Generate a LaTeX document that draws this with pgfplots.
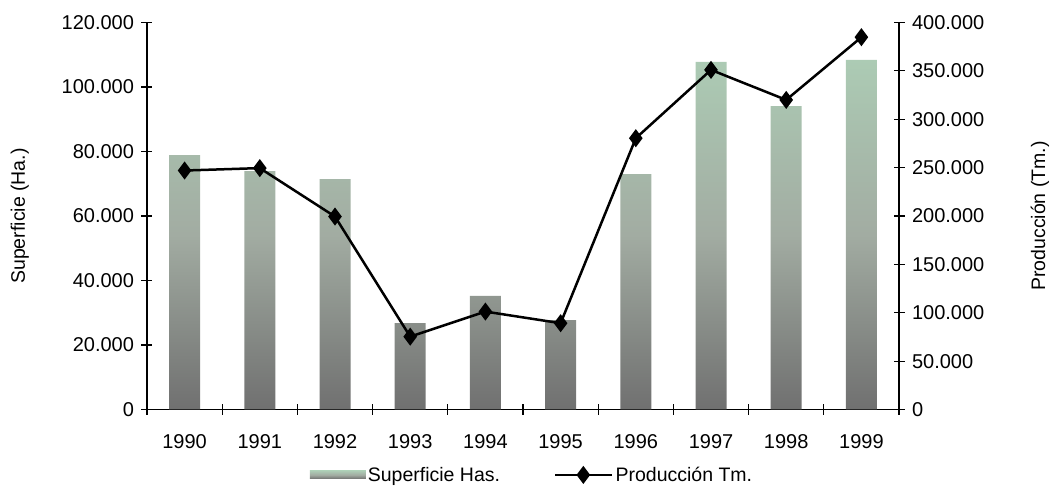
\documentclass[border=0pt]{standalone}
\usepackage{pgfplots}
\pgfplotsset{compat=1.18}
\usepackage{fontspec}
\setmainfont{Liberation Sans}
\definecolor{bartop}{RGB}{172,203,180}
\definecolor{barmid}{RGB}{162,172,162}
\definecolor{barbot}{RGB}{112,112,112}
\begin{document}
\begin{tikzpicture}
\pgfplotsset{
  common/.style={
    scale only axis, width=752pt, height=387pt,
    xmin=-0.5, xmax=9.5,
    axis line style={black, line width=1.3pt},
    tick style={black, line width=1.1pt},
    tick align=center,
    major tick length=11pt,
    scaled y ticks=false,
    tick label style={font=\fontsize{20}{24}\selectfont},
    label style={font=\fontsize{19.5}{23}\selectfont},
  }
}
\begin{axis}[common,
  axis x line*=bottom, axis y line*=left,
  ymin=0, ymax=120000,
  ytick={0,20000,40000,60000,80000,100000,120000},
  yticklabels={0,20.000,40.000,60.000,80.000,100.000,120.000},
  yticklabel style={xshift=-4pt},
  xtick={-0.5,0.5,1.5,2.5,3.5,4.5,5.5,6.5,7.5,8.5,9.5},
  xticklabels={1990,1991,1992,1993,1994,1995,1996,1997,1998,1999},
  xticklabel style={yshift=-16pt},
  x tick label as interval,
  ylabel={Superficie (Ha.)},
  ylabel style={at={(axis description cs:-0.169,0.5)}, anchor=center},
]
\addplot[ybar, bar width=31pt, draw=none, top color=bartop, bottom color=barbot, middle color=barmid] coordinates {
(0,78900) (1,73950) (2,71470) (3,26800) (4,35200) (5,27750) (6,73000) (7,107750) (8,94100) (9,108400)
};
\end{axis}
\begin{axis}[common,
  axis x line=none, axis y line*=right,
  ymin=0, ymax=400000,
  ytick={0,50000,100000,150000,200000,250000,300000,350000,400000},
  yticklabels={0,50.000,100.000,150.000,200.000,250.000,300.000,350.000,400.000},
  yticklabel style={xshift=4pt},
  ylabel={Producción (Tm.)},
  ylabel style={at={(axis description cs:1.1875,0.5)}, anchor=center},
  legend columns=2,
  legend style={at={(axis description cs:0.512,-0.169)}, anchor=center, draw=none, fill=none,
    font=\fontsize{19.5}{23}\selectfont,
    /tikz/every even column/.append style={column sep=52pt}},
]
\addlegendimage{legend image code/.code={\path[draw=none, top color=bartop, bottom color=barbot, middle color=barmid] (0pt,-4pt) rectangle (56pt,4pt);}}
\addlegendentry{Superficie Has.}
\addplot[black, line width=2.5pt, mark=diamond*, mark size=7pt,
  legend image code/.code={\draw[mark repeat=2, mark phase=2] plot coordinates {(0pt,0pt) (28pt,0pt) (57pt,0pt)};}] coordinates {
(0,247000) (1,249500) (2,199400) (3,75300) (4,101200) (5,89200) (6,280400) (7,351000) (8,320000) (9,384800)
};
\addlegendentry{Producción Tm.}
\end{axis}
\pgfresetboundingbox
\path (-147pt,-76.5pt) rectangle (909pt,409.5pt);
\end{tikzpicture}
\end{document}
